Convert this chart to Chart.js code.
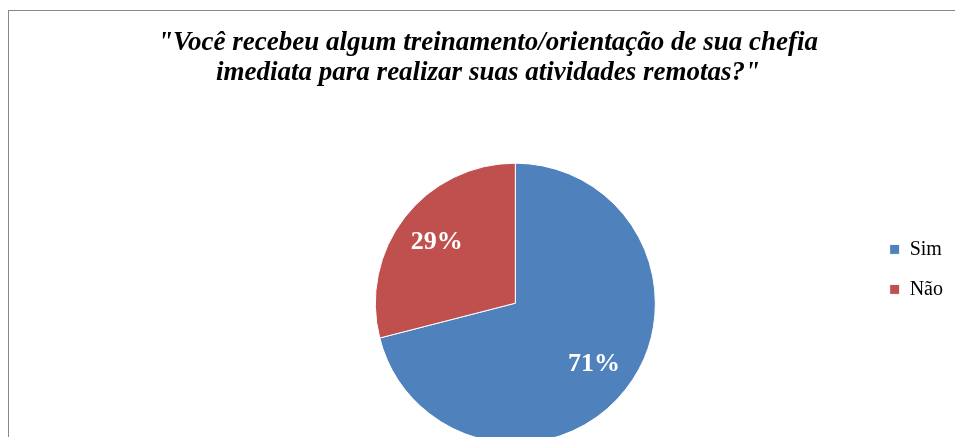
<!DOCTYPE html>
<html>
<head>
<meta charset="utf-8">
<script src="https://cdn.jsdelivr.net/npm/chart.js@4"></script>
<style>
  html, body { margin: 0; padding: 0; background: #fff; overflow: hidden; }
  #moldura {
    position: absolute; left: 8px; top: 10px; width: 990px; height: 460px;
    border-top: 1px solid #878787; border-left: 1px solid #878787;
  }
  #grafico { position: absolute; left: 0; top: 0; }
</style>
</head>
<body>
<div id="moldura"></div>
<canvas id="grafico" width="953" height="437"></canvas>
<script>
const titulo = ['"Você recebeu algum treinamento/orientação de sua chefia', 'imediata para realizar suas atividades remotas?"'];
const categorias = ['Sim', 'Não'];
const valores = [71, 29];
const cores = ['#4F81BD', '#C0504D'];

const fonte = "'Liberation Serif', 'Times New Roman', serif";

// titulo centrado na moldura inteira, nao so na area do grafico
const tituloCentrado = {
  id: 'tituloCentrado',
  afterLayout(chart) {
    chart.titleBlock.left = 0;
    chart.titleBlock.right = 976;
  }
};

// percentuais dentro das fatias
const rotulosFatias = {
  id: 'rotulosFatias',
  afterDatasetsDraw(chart) {
    const ctx = chart.ctx;
    const meta = chart.getDatasetMeta(0);
    const total = valores.reduce((a, b) => a + b, 0);
    ctx.save();
    ctx.font = "bold 26px " + fonte;
    ctx.fillStyle = '#ffffff';
    ctx.textAlign = 'center';
    ctx.textBaseline = 'middle';
    meta.data.forEach((arc, i) => {
      const { x, y, startAngle, endAngle, outerRadius } = arc.getProps(['x', 'y', 'startAngle', 'endAngle', 'outerRadius'], true);
      const meio = (startAngle + endAngle) / 2;
      const r = outerRadius * 0.71;
      const pct = Math.round(valores[i] / total * 100) + '%';
      ctx.fillText(pct, x + Math.cos(meio) * r, y + Math.sin(meio) * r);
    });
    ctx.restore();
  }
};

new Chart(document.getElementById('grafico').getContext('2d'), {
  type: 'pie',
  data: {
    labels: categorias,
    datasets: [{
      data: valores,
      backgroundColor: cores,
      borderColor: '#ffffff',
      borderWidth: 1,
      radius: 140,
      clip: false,
    }]
  },
  options: {
    responsive: false,
    animation: false,
    layout: { padding: { left: 161, right: 0, top: 0, bottom: 50 } },
    plugins: {
      title: {
        display: true,
        text: titulo,
        color: '#000000',
        font: { family: fonte, size: 27, weight: 'bold', style: 'italic', lineHeight: 1.1 },
        padding: { top: 28, bottom: 132 },
      },
      legend: {
        position: 'right',
        align: 'start',
        fullSize: false,
        labels: {
          color: '#000000',
          font: { family: fonte, size: 20 },
          boxWidth: 10,
          boxHeight: 10,
          padding: 20,
        },
      },
      tooltip: { enabled: false },
    },
  },
  plugins: [tituloCentrado, rotulosFatias],
});
</script>
</body>
</html>
